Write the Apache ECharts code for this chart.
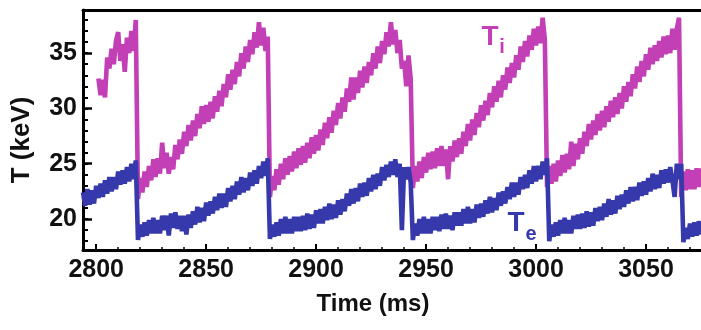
<!DOCTYPE html>
<html><head><meta charset="utf-8">
<script src="https://cdn.jsdelivr.net/npm/echarts@6/dist/echarts.min.js"></script>
<style>html,body{margin:0;padding:0;background:#fff}#c{width:701px;height:330px}</style>
</head><body><div id="c"></div>
<script>
// first sample time (ms); samples are 1 ms apart
const sampleStartMs = 2794;

// electron temperature Te (keV), 2794 .. 3075 ms
const teKeV = [
  22.4, 21.2, 22.7, 21.3, 22.6, 21.4,
  23.0, 21.9, 23.2, 22.0, 23.5, 22.3, 23.8, 22.5, 23.8, 22.7,
  24.3, 23.1, 24.4, 23.2, 24.7, 23.4, 25.0, 23.6, 25.3, 18.1,
  19.5, 18.4, 19.7, 18.5, 19.9, 18.7, 20.1, 18.7, 19.9, 18.7,
  20.3, 19.0, 20.3, 18.5, 20.5, 19.2, 20.6, 19.1, 20.3, 18.9,
  20.3, 18.6, 20.4, 19.2, 20.7, 19.5, 21.1, 19.7, 21.0, 19.8,
  21.5, 20.3, 21.6, 20.5, 22.0, 20.8, 22.3, 21.0, 22.3, 21.1,
  22.8, 21.6, 23.0, 21.8, 23.4, 22.2, 23.8, 22.4, 23.7, 22.6,
  24.2, 23.0, 24.4, 23.2, 24.8, 23.7, 25.2, 23.9, 25.5, 18.2,
  19.5, 18.4, 19.7, 18.5, 20.0, 18.7, 20.2, 18.7, 20.0, 18.7,
  20.2, 18.9, 20.2, 18.9, 20.3, 19.0, 20.5, 19.1, 20.4, 19.2,
  20.8, 19.6, 20.9, 19.6, 21.1, 19.9, 21.4, 20.0, 21.3, 20.1,
  21.7, 20.4, 21.8, 20.7, 22.3, 21.2, 22.7, 21.4, 22.8, 21.6,
  23.2, 22.0, 23.3, 22.1, 23.7, 22.5, 24.0, 22.7, 24.1, 23.0,
  24.7, 23.5, 24.9, 23.8, 25.2, 24.0, 25.4, 23.8, 25.0, 19.0,
  24.7, 23.6, 24.7, 23.3, 18.1, 19.6, 18.5, 20.0, 18.7, 20.2,
  18.7, 20.0, 18.7, 20.2, 19.0, 20.2, 18.9, 20.4, 19.1, 20.5,
  19.1, 20.3, 19.0, 20.6, 19.4, 20.6, 19.4, 20.9, 19.6, 21.1,
  19.6, 20.9, 19.7, 21.3, 20.1, 21.4, 20.2, 21.7, 20.5, 22.0,
  20.6, 21.9, 20.8, 22.4, 21.2, 22.5, 21.4, 22.9, 21.8, 23.3,
  22.0, 23.3, 22.2, 23.8, 22.7, 24.0, 22.8, 24.4, 23.2, 24.8,
  23.4, 24.8, 23.6, 25.2, 24.0, 25.5, 18.0, 19.5, 18.4, 19.7,
  18.5, 19.9, 18.7, 20.1, 18.7, 19.9, 18.7, 20.3, 19.1, 20.4,
  19.1, 20.5, 19.2, 20.7, 19.3, 20.6, 19.4, 21.0, 19.8, 21.1,
  19.9, 21.4, 20.2, 21.8, 20.4, 21.7, 20.5, 22.1, 20.9, 22.2,
  21.1, 22.6, 21.4, 22.9, 21.6, 22.9, 21.7, 23.3, 22.1, 23.4,
  22.2, 23.7, 22.5, 24.1, 22.7, 24.0, 22.8, 24.4, 23.2, 24.5,
  23.3, 24.7, 23.5, 22.0, 25.0, 23.6, 25.0, 17.9, 19.2, 18.2,
  19.6, 18.4, 19.7, 18.5, 19.8, 18.6
];

// ion temperature Ti (keV), 2794 .. 3075 ms (no data before 2801)
const tiKeV = [
  null, null, null, null, null, null,
  null, 32.7, 31.2, 32.6, 31.0, 34.6, 33.6, 35.4, 34.0, 36.1,
  36.9, 34.3, 35.8, 33.3, 36.4, 35.0, 37.0, 35.2, 38.0, 21.8,
  23.7, 22.4, 24.3, 22.9, 24.8, 23.5, 25.4, 23.8, 25.5, 24.1,
  26.9, 24.6, 26.0, 24.1, 25.6, 24.5, 26.7, 25.4, 27.2, 25.9,
  27.9, 26.6, 28.5, 27.1, 28.9, 27.5, 29.5, 28.2, 30.2, 28.6,
  30.3, 28.8, 30.6, 29.1, 31.1, 29.7, 31.6, 30.2, 32.2, 31.0,
  33.1, 31.7, 33.5, 32.2, 34.2, 32.9, 35.0, 33.6, 35.6, 34.2,
  36.2, 34.9, 36.9, 35.5, 37.8, 35.7, 37.3, 35.2, 36.5, 22.0,
  23.9, 22.6, 24.5, 23.1, 25.0, 23.6, 25.5, 24.0, 25.7, 24.3,
  26.1, 24.6, 26.4, 24.9, 26.6, 25.1, 26.9, 25.5, 27.4, 25.9,
  27.6, 26.2, 28.1, 26.7, 28.7, 27.3, 29.2, 27.8, 29.8, 28.5,
  30.5, 29.1, 31.0, 29.7, 31.8, 30.6, 32.8, 30.8, 32.8, 31.4,
  33.4, 31.9, 33.8, 32.3, 34.2, 33.0, 35.0, 33.6, 35.6, 34.1,
  36.1, 34.9, 36.9, 35.6, 37.8, 35.8, 37.1, 35.0, 36.2, 33.6,
  34.3, 32.0, 34.8, 32.7, 22.8, 24.8, 23.4, 25.2, 23.7, 25.6,
  24.2, 26.0, 24.5, 26.1, 24.6, 26.4, 24.8, 26.6, 24.8, 26.3,
  23.6, 26.6, 25.2, 27.1, 25.6, 27.3, 25.9, 27.9, 26.6, 28.6,
  27.1, 29.0, 27.6, 29.6, 28.3, 30.3, 28.9, 30.7, 29.4, 31.4,
  30.1, 32.0, 30.6, 32.5, 31.0, 33.0, 31.7, 33.7, 32.3, 34.1,
  32.8, 34.8, 33.5, 35.6, 34.2, 36.1, 34.7, 36.6, 35.3, 37.2,
  35.7, 37.4, 35.9, 38.2, 36.2, 22.9, 24.8, 23.2, 25.0, 23.4,
  25.3, 23.9, 25.8, 24.2, 25.9, 24.5, 27.0, 24.8, 26.8, 25.4,
  27.3, 25.9, 27.9, 26.6, 28.6, 27.2, 28.9, 27.6, 29.5, 28.0,
  29.8, 28.3, 30.2, 28.8, 30.7, 29.2, 31.0, 29.5, 31.4, 30.0,
  32.0, 30.6, 32.4, 31.1, 33.1, 31.8, 33.8, 32.4, 34.3, 32.9,
  34.9, 33.5, 35.5, 34.0, 35.7, 34.3, 36.1, 34.6, 36.5, 34.9,
  36.6, 35.0, 37.2, 35.3, 37.2, 38.2, 22.0, 24.3, 22.6, 24.5,
  22.7, 24.4, 22.7, 24.6, 22.9, 24.6
];

const xMajorTicks = [2800, 2850, 2900, 2950, 3000, 3050];
const xMinorTicks = [2800, 2810, 2820, 2830, 2840, 2850, 2860, 2870, 2880, 2890, 2900, 2910, 2920, 2930,
                     2940, 2950, 2960, 2970, 2980, 2990, 3000, 3010, 3020, 3030, 3040, 3050, 3060, 3070];
const yMajorTicks = [20, 25, 30, 35];
const yMinorTicks = [18, 19, 20, 21, 22, 23, 24, 25, 26, 27, 28, 29, 30, 31, 32, 33, 34, 35, 36, 37, 38];

const xRange = [2794, 3075];
const yRange = [17.2, 38.9];

const FONT = '"Liberation Sans", Arial, Helvetica, sans-serif';
const TI_COLOR = '#c23fb6';
const TE_COLOR = '#3539ab';

const teData = teKeV.map((v, i) => [sampleStartMs + i, v]);
const tiData = tiKeV.map((v, i) => [sampleStartMs + i, v]);

const chart = echarts.init(document.getElementById('c'), null, {renderer: 'canvas'});
const lbl = {fontSize: 25, fontWeight: 'bold', color: '#111', fontFamily: FONT, formatter: v => String(v)};

chart.setOption({
  animation: false,
  backgroundColor: '#fff',
  grid: {left: 83, right: -2, top: 10, bottom: 80, containLabel: false},
  xAxis: [
    {type: 'value', position: 'bottom', min: xRange[0], max: xRange[1],
     axisLine: {onZero: false, lineStyle: {color: '#000', width: 3}},
     axisTick: {inside: true, length: 6, customValues: xMajorTicks, lineStyle: {color: '#000', width: 2}},
     axisLabel: Object.assign({customValues: xMajorTicks, margin: 8}, lbl),
     splitLine: {show: false}},
    {type: 'value', position: 'bottom', min: xRange[0], max: xRange[1],
     axisLine: {show: false},
     axisTick: {inside: true, length: 3, customValues: xMinorTicks, lineStyle: {color: '#000', width: 1.5}},
     axisLabel: {show: false}, splitLine: {show: false}},
    {type: 'value', position: 'top', min: xRange[0], max: xRange[1],
     axisLine: {onZero: false, lineStyle: {color: '#000', width: 3}},
     axisTick: {show: false}, axisLabel: {show: false}, splitLine: {show: false}}
  ],
  yAxis: [
    {type: 'value', position: 'left', min: yRange[0], max: yRange[1],
     axisLine: {show: true, onZero: false, lineStyle: {color: '#000', width: 3}},
     axisTick: {show: true, inside: true, length: 9, customValues: yMajorTicks, lineStyle: {color: '#000', width: 2.5}},
     axisLabel: Object.assign({customValues: yMajorTicks, margin: 6}, lbl),
     splitLine: {show: false}},
    {type: 'value', position: 'left', min: yRange[0], max: yRange[1],
     axisLine: {show: false},
     axisTick: {show: true, inside: true, length: 5, customValues: yMinorTicks, lineStyle: {color: '#000', width: 2}},
     axisLabel: {show: false}, splitLine: {show: false}}
  ],
  series: [
    {name: 'Ti', type: 'line', xAxisIndex: 0, yAxisIndex: 0, data: tiData, symbol: 'none',
     connectNulls: false, lineStyle: {color: TI_COLOR, width: 4.6, join: 'miter', miterLimit: 2}, z: 2},
    {name: 'Te', type: 'line', xAxisIndex: 0, yAxisIndex: 0, data: teData, symbol: 'none',
     lineStyle: {color: TE_COLOR, width: 4.6, join: 'miter', miterLimit: 2}, z: 3}
  ],
  graphic: [
    {type: 'text', x: 22, y: 140, rotation: Math.PI / 2,
     style: {text: 'T (keV)', font: 'bold 26px ' + FONT, fill: '#111', align: 'center', verticalAlign: 'middle'}},
    {type: 'text', x: 373, y: 304,
     style: {text: 'Time (ms)', font: 'bold 24px ' + FONT, fill: '#111', align: 'center', verticalAlign: 'middle'}},
    {type: 'text', x: 490, y: 37,
     style: {text: 'T', font: 'bold 28px ' + FONT, fill: TI_COLOR, align: 'center', verticalAlign: 'middle'}},
    {type: 'text', x: 502, y: 47,
     style: {text: 'i', font: 'bold 20px ' + FONT, fill: TI_COLOR, align: 'center', verticalAlign: 'middle'}},
    {type: 'text', x: 516, y: 223,
     style: {text: 'T', font: 'bold 28px ' + FONT, fill: TE_COLOR, align: 'center', verticalAlign: 'middle'}},
    {type: 'text', x: 531, y: 234,
     style: {text: 'e', font: 'bold 20px ' + FONT, fill: TE_COLOR, align: 'center', verticalAlign: 'middle'}}
  ]
});
</script>
</body></html>
